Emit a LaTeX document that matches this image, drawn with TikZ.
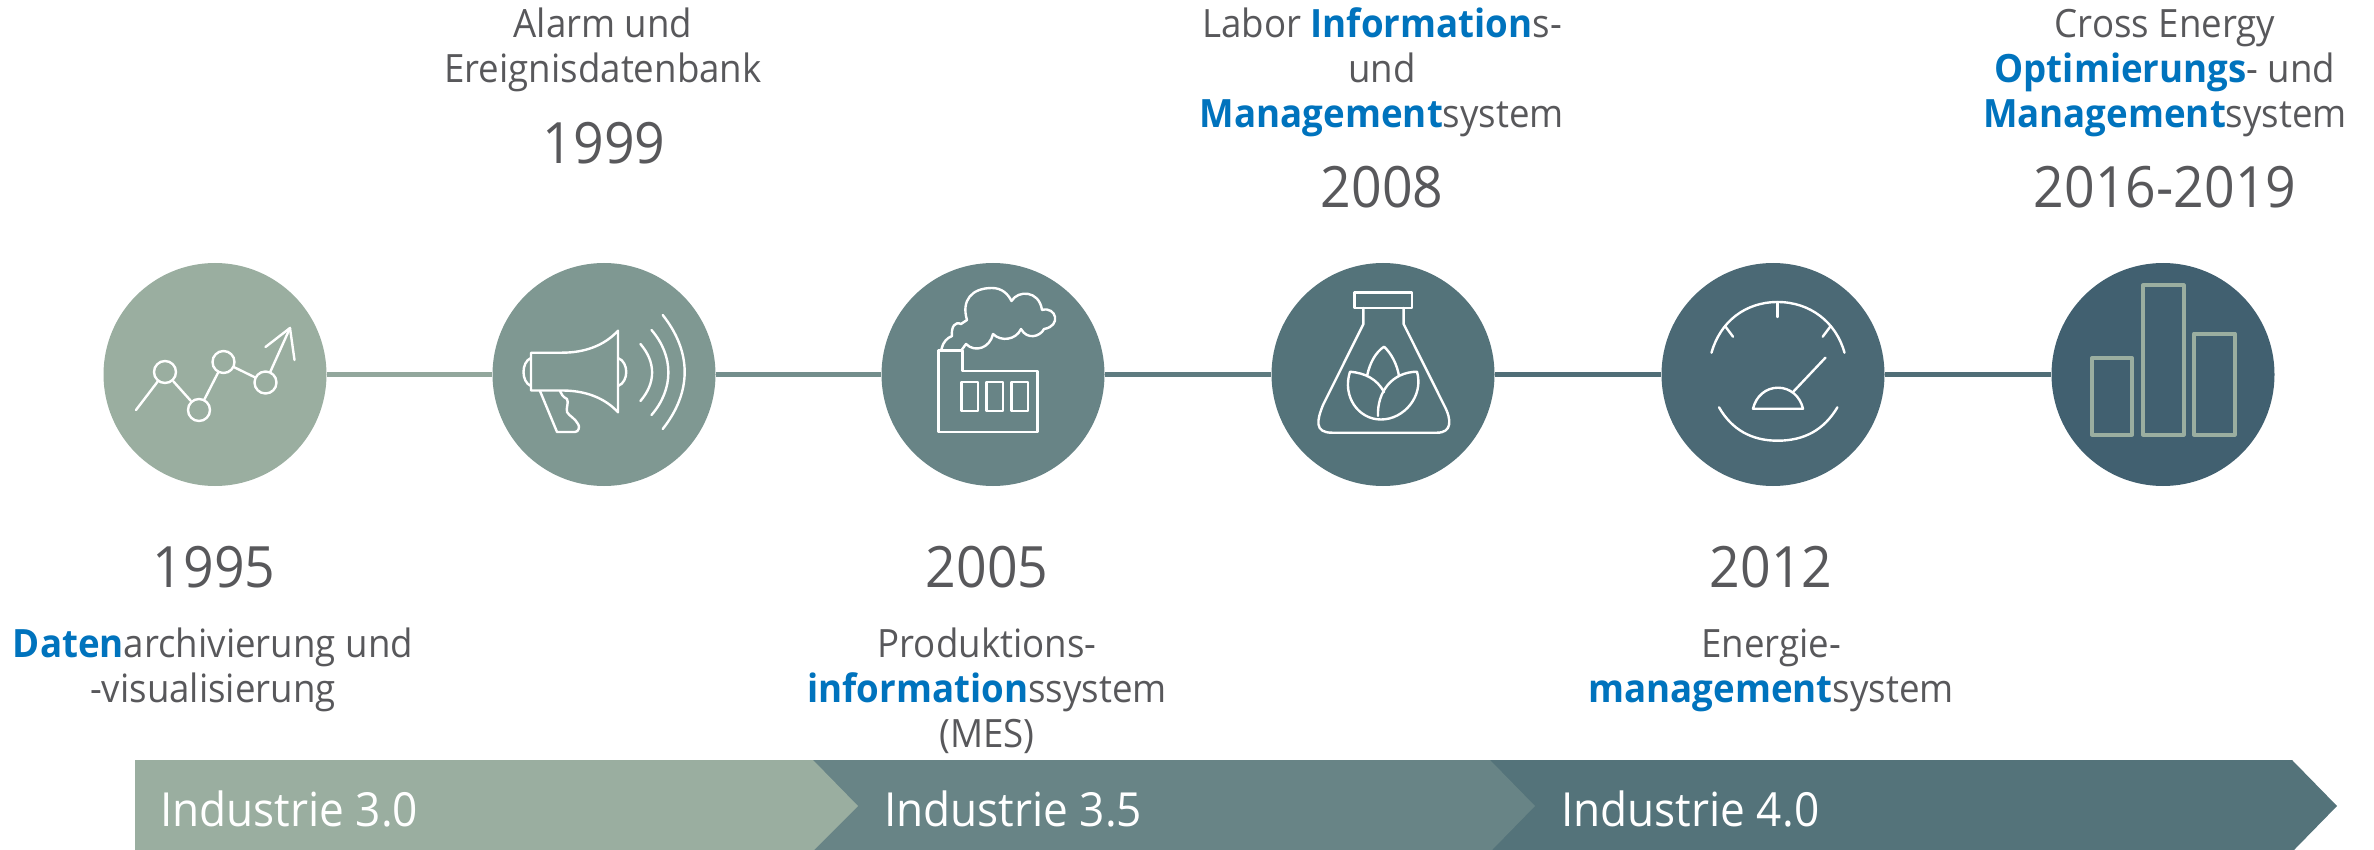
\documentclass[tikz,border=0pt]{standalone}
\usepackage{fontspec}
\setmainfont[FakeStretch=0.94]{Open Sans}
\definecolor{cA}{HTML}{9AAEA0}
\definecolor{cB}{HTML}{7F9892}
\definecolor{cC}{HTML}{688486}
\definecolor{cD}{HTML}{54737A}
\definecolor{cE}{HTML}{4B6975}
\definecolor{cF}{HTML}{416070}
\definecolor{txt}{HTML}{58585B}
\definecolor{hl}{HTML}{0073BD}
\newcommand{\hlb}[1]{\textcolor{hl}{\textbf{#1}}}
\newcommand{\firstln}{\rule{0pt}{32pt}}
\tikzset{
  x=1pt,y=-1pt,
  stage/.style={circle,inner sep=0pt,minimum size=223pt},
  link/.style={line width=5pt},
  yearlabel/.style={anchor=base,inner sep=0pt,text=txt,font=\fontsize{57}{62}\selectfont},
  bodylabel/.style={anchor=north,inner sep=0pt,align=center,text=txt,font=\fontsize{39}{45}\selectfont},
  barlabel/.style={anchor=base west,inner sep=0pt,text=white,font=\fontsize{47}{52}\selectfont},
  icon/.style={draw=white,line width=2.4pt,line cap=round,line join=round},
  dot/.style={circle,draw=white,line width=2.4pt,inner sep=0pt,minimum size=22pt},
  barbox/.style={draw=cA,line width=4pt,line join=round},
}
\begin{document}
\begin{tikzpicture}
\useasboundingbox (0,0) rectangle (2374,850);
% bottom arrows
\fill[cD] (1490,760) -- (2292,760) -- (2337,806) -- (2294,850) -- (1490,850) -- cycle;
\fill[cC] (813,760) -- (1490,760) -- (1535,806) -- (1492,850) -- (813,850) -- cycle;
\fill[cA] (135,760) -- (813,760) -- (858,806) -- (814,850) -- (135,850) -- cycle;
\node[barlabel] (ind30) at (160,826) {Industrie 3.0};
\node[barlabel] (ind35) at (884,826) {Industrie 3.5};
\node[barlabel] (ind40) at (1561,826) {Industrie 4.0};
% stages
\node[stage,fill=cA] (s1) at (215,374.5) {};
\node[stage,fill=cB] (s2) at (604,374.5) {};
\node[stage,fill=cC] (s3) at (993,374.5) {};
\node[stage,fill=cD] (s4) at (1383,374.5) {};
\node[stage,fill=cE] (s5) at (1773,374.5) {};
\node[stage,fill=cF] (s6) at (2163,374.5) {};
\draw[link,draw=cA!70!cB] (s1) -- (s2);
\draw[link,draw=cB!50!cC] (s2) -- (s3);
\draw[link,draw=cC!50!cD] (s3) -- (s4);
\draw[link,draw=cD!50!cE] (s4) -- (s5);
\draw[link,draw=cE!50!cD] (s5) -- (s6);
% icon 1: line chart
\coordinate (p0) at (136,410);
\node[dot] (d1) at (165,372) {};
\node[dot] (d2) at (199,410) {};
\node[dot] (d3) at (223.5,362) {};
\node[dot] (d4) at (265.5,382.5) {};
\coordinate (p5) at (290,328);
\draw[icon] (p0) -- (d1);
\draw[icon] (d1) -- (d2);
\draw[icon] (d2) -- (d3);
\draw[icon] (d3) -- (d4);
\draw[icon] (d4) -- (p5);
\draw[icon] (265.5,347) -- (p5) -- (294.5,360);
% icon 2: megaphone
\draw[icon] (562,352.7) -- (531,352.7) -- (531,390.5) -- (562,390.5)
  .. controls (584,390.5) and (604,397) .. (618,412.3) -- (618,330.7)
  .. controls (604,346) and (584,352.7) .. (562,352.7) -- cycle;
\draw[icon] (531,358) .. controls (521,362) and (521,382) .. (531,386);
\draw[icon] (618,358) .. controls (629,362) and (629,382) .. (618,386);
\draw[icon] (640.4,344) .. controls (656,362) and (656,383) .. (640.4,401);
\draw[icon] (651.5,330) .. controls (674,356) and (674,389) .. (651.5,415);
\draw[icon] (662.7,315) .. controls (692,352) and (692,392) .. (662.7,429);
\draw[icon] (540,391) -- (557,432) -- (575,432)
  .. controls (579,432) and (580,426) .. (578,424)
  .. controls (575,418) and (569,416) .. (567,412)
  .. controls (566,407) and (569,403) .. (567,399)
  .. controls (563,397) and (561,394) .. (560,391);
% icon 3: factory
\draw[icon] (938.5,350.5) -- (962.5,350.5) -- (962.5,370.7) -- (1037.5,370.7)
  -- (1037.5,431.7) -- (938.5,431.7) -- cycle;
\draw[icon] (961.6,381.7) rectangle (978,410.7);
\draw[icon] (986.6,381.7) rectangle (1003,410.7);
\draw[icon] (1011.6,381.7) rectangle (1028,410.7);
\draw[icon] (941.5,349) .. controls (943,342) and (947,338) .. (952,336)
  .. controls (951,327) and (955,321) .. (961,324)
  -- (967,320)
  .. controls (961,300) and (972,288) .. (992,288)
  .. controls (1002,288) and (1008,294) .. (1011.5,301)
  .. controls (1018,290) and (1039,290) .. (1042,310)
  .. controls (1056,306) and (1062,326) .. (1044,329)
  .. controls (1040,337) and (1027,340) .. (1021,329)
  .. controls (1016,340) and (1001,342) .. (993,334)
  .. controls (990,348) and (975,353) .. (966,344)
  -- (961.6,350);
% icon 4: flask
\draw[icon] (1354.5,292.7) rectangle (1412,308);
\draw[icon] (1363.4,308) -- (1363.4,324) -- (1323,405)
  .. controls (1317,420) and (1314,432.7) .. (1332,432.7) -- (1437,432.7)
  .. controls (1452,432.7) and (1452,420) .. (1444,405) -- (1403.6,324) -- (1403.6,308);
\draw[icon] (1367,376) .. controls (1370,362) and (1376,352) .. (1384,346.7)
  .. controls (1391,353) and (1397,364) .. (1399,376);
\draw[icon] (1384,392) .. controls (1377,379) and (1365,373) .. (1350,371.7)
  .. controls (1342,396) and (1358,419.5) .. (1381,419.5)
  .. controls (1404,419.5) and (1424,396) .. (1417,371.7)
  .. controls (1392,372) and (1377,392) .. (1378,416);
% icon 5: gauge
\draw[icon] (1711.5,352.7) .. controls (1720,322) and (1745,302) .. (1777.6,302)
  .. controls (1810,302) and (1836,322) .. (1844.5,352.7);
\draw[icon] (1777.6,302) -- (1777.6,317);
\draw[icon] (1725,326) -- (1733,336.7);
\draw[icon] (1830.7,326) -- (1822.7,336.7);
\draw[icon] (1825.4,357.7) -- (1793,392);
\draw[icon] (1753,408.7) -- (1803,408.7) .. controls (1800,396) and (1790,387.7) .. (1778,387.7)
  .. controls (1766,387.7) and (1756,396) .. (1753,408.7) -- cycle;
\draw[icon] (1719,407.3) .. controls (1732,430) and (1752,440.7) .. (1777.6,440.7)
  .. controls (1804,440.7) and (1824,430) .. (1837.4,407.3);
% icon 6: bars
\draw[barbox] (2092,358) rectangle (2132,434.5);
\draw[barbox] (2143,285.5) rectangle (2183.6,434.5);
\draw[barbox] (2194,333.5) rectangle (2234.5,434.5);
% years
\node[yearlabel] (y1995) at (214,587) {1995};
\node[yearlabel] (y1999) at (604,164) {1999};
\node[yearlabel] (y2005) at (987,587) {2005};
\node[yearlabel] (y2008) at (1382,208) {2008};
\node[yearlabel] (y2012) at (1771,587) {2012};
\node[yearlabel] (y2016) at (2165,208) {2016-2019};
% descriptions
\node[bodylabel] (t1999) at (603,5) {\firstln Alarm und\\Ereignisdatenbank};
\node[bodylabel] (t2008) at (1382,5) {\firstln Labor \hlb{Information}s-\\und\\\hlb{Management}system};
\node[bodylabel] (t2016) at (2165,5) {\firstln Cross Energy\\\hlb{Optimierungs}- und\\\hlb{Management}system};
\node[bodylabel] (t1995) at (213,625) {\firstln \hlb{Daten}archivierung und\\-visualisierung};
\node[bodylabel] (t2005) at (987,625) {\firstln Produktions-\\\hlb{information}ssystem\\(MES)};
\node[bodylabel] (t2012) at (1771,625) {\firstln Energie-\\\hlb{management}system};
\end{tikzpicture}
\end{document}
